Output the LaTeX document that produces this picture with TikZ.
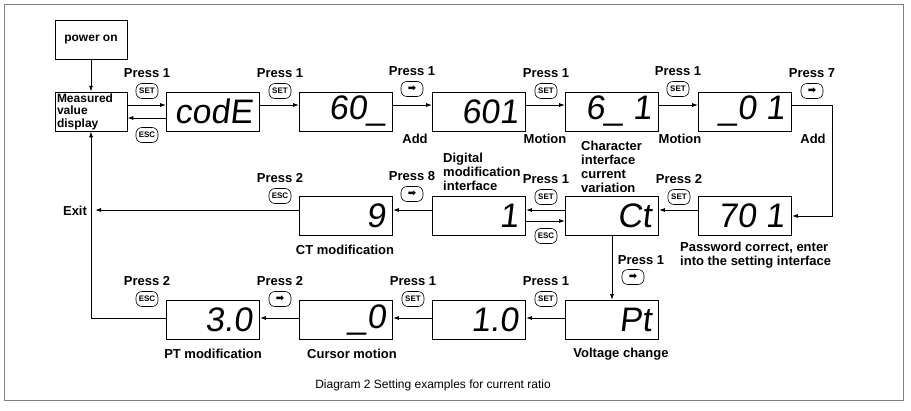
\documentclass[tikz,border=0pt]{standalone}
\usepackage{fontspec}
\setmainfont{Liberation Sans}
\newfontfamily\djv{DejaVu Sans}
\usetikzlibrary{arrows.meta}
\begin{document}
\begin{tikzpicture}[x=1pt,y=-1pt,
 lcd/.style={draw,line width=0.8pt,minimum width=93pt,minimum height=39pt,inner sep=0pt},
 dig/.style={font=\fontsize{34}{34}\selectfont,anchor=east,inner sep=0pt,xslant=0.12},
 plain/.style={draw,line width=0.5pt,minimum width=72pt,minimum height=39pt,inner sep=1pt,font=\bfseries\fontsize{12}{12.5}\selectfont,align=left},
 lbl/.style={font=\bfseries\fontsize{13}{14}\selectfont,inner sep=0pt},
 btn/.style={draw,rounded corners=6pt,line width=0.6pt,minimum width=22pt,minimum height=15pt,inner sep=0pt,font=\bfseries\fontsize{8}{8}\selectfont},
 arr/.style={-{Latex[length=6pt,width=4pt]},line width=1pt}]
\useasboundingbox (0,0) rectangle (911,410);
\draw[line width=0.8pt,gray] (4,4) rectangle (903,400);
% boxes
\node[plain] (pow) at (91,40) {power on};
\node[plain,text width=68pt] (meas) at (91,111.5) {Measured\\value\\display};
\foreach \n/\x/\y/\t in {code/213/111.5/codE, s60/346/111.5/60\_, s601/479/111.5/601, s61/612/111.5/6\_\ 1, s01/745/111.5/\_0 1,
 c9/346/216/9, c1/479/216/1, ct/612/216/Ct, c701/745/216/70 1,
 p30/213/320/3.0, p0/346/320/\_0, p10/479/320/1.0, pt/612/320/Pt}{
 \node[lcd] (\n) at (\x,\y) {};
 \node[dig] at ([xshift=-6pt]\n.east) {\t};
}
% buttons
\newcommand{\btnset}[4]{\node[lbl] at (#1,#2) {Press #3}; \node[btn] at (#1,#2+18) {#4};}
\newcommand{\arrowsym}{{\djv\fontsize{10}{10}\selectfont ➡}}
\btnset{147}{73}{1}{SET}
\node[btn] at (147,135) {ESC};
\btnset{280}{73}{1}{SET}
\btnset{412}{71}{1}{\arrowsym}
\btnset{546}{73}{1}{SET}
\btnset{678}{71}{1}{SET}
\btnset{812}{73}{7}{\arrowsym}
\btnset{280}{178}{2}{ESC}
\btnset{412}{176}{8}{\arrowsym}
\btnset{546}{179}{1}{SET}
\node[btn] at (546,236) {ESC};
\btnset{679}{179}{2}{SET}
\node[lbl] at (641,260) {Press 1};
\node[btn] at (633,277) {\arrowsym};
\btnset{147}{281}{2}{ESC}
\btnset{280}{281}{2}{\arrowsym}
\btnset{413}{281}{1}{SET}
\btnset{546}{281}{1}{SET}
% labels
\node[lbl] at (415,139) {Add};
\node[lbl] at (545,139) {Motion};
\node[lbl] at (680,139) {Motion};
\node[lbl] at (813,139) {Add};
\node[lbl,align=left,anchor=north west] at (581,141) {Character\\interface\\current\\variation};
\node[lbl,align=left,anchor=north west] at (443,153) {Digital\\modification\\interface};
\node[lbl] at (345,250) {CT modification};
\node[lbl,align=left,anchor=north west] at (680,242) {Password correct, enter\\into the setting interface};
\node[lbl] at (213,354) {PT modification};
\node[lbl] at (352,354) {Cursor motion};
\node[lbl] at (621,354) {Voltage change};
\node[lbl] (exit) at (75,211) {Exit};
\node[font=\fontsize{12}{13}\selectfont] at (433,385) {Diagram 2 Setting examples for current ratio};
% connectors
\draw[arr] (pow) -- (meas);
\draw[arr] (meas.east |- 0,105) -- (code.west |- 0,105);
\draw[arr] (code.west |- 0,118) -- (meas.east |- 0,118);
\draw[arr] (code.east |- 0,105) -- (s60.west |- 0,105);
\draw[arr] (s60.east |- 0,105) -- (s601.west |- 0,105);
\draw[arr] (s601.east |- 0,105) -- (s61.west |- 0,105);
\draw[arr] (s61.east |- 0,105) -- (s01.west |- 0,105);
\coordinate (r1) at (832,105);
\draw[arr] (s01.east |- 0,105) -- (r1) -- (832,216) -- (c701.east);
\draw[arr] (c701.west |- 0,210) -- (ct.east |- 0,210);
\draw[arr] (ct.west |- 0,210) -- (c1.east |- 0,210);
\draw[arr] (c1.east |- 0,221) -- (ct.west |- 0,221);
\draw[arr] (c1.west |- 0,210) -- (c9.east |- 0,210);
\draw[arr] (c9.west |- 0,210) -- (95,210);
\draw[arr] (ct.south) -- (pt.north);
\draw[arr] (pt.west |- 0,318) -- (p10.east |- 0,318);
\draw[arr] (p10.west |- 0,318) -- (p0.east |- 0,318);
\draw[arr] (p0.west |- 0,318) -- (p30.east |- 0,318);
\draw[arr] (p30.west |- 0,318) -- (91,318) -- (meas.south);
\end{tikzpicture}
\end{document}
